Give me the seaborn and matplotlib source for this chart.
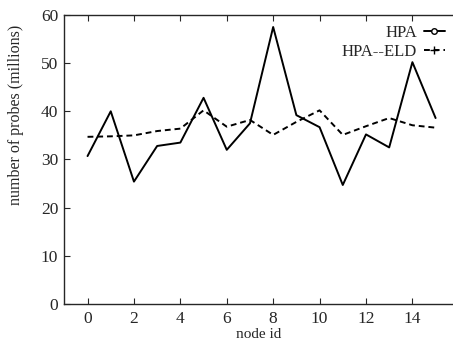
import numpy as np
import pandas as pd
import matplotlib
matplotlib.use('Agg')
import matplotlib.pyplot as plt
from matplotlib.lines import Line2D
import seaborn as sns

node_id = list(range(16))
hpa = [30.7, 40.0, 25.4, 32.8, 33.5, 42.8, 32.0, 37.5, 57.5, 39.2, 36.7, 24.7, 35.2, 32.5, 50.2, 38.6]
hpa_eld = [34.7, 34.8, 35.0, 35.9, 36.4, 40.2, 36.8, 38.2, 35.1, 37.8, 40.2, 35.1, 36.9, 38.6, 37.1, 36.6]
series_names = ['HPA', 'HPA--ELD']

df = pd.DataFrame({
    'node': node_id * 2,
    'probes': hpa + hpa_eld,
    'method': [series_names[0]] * 16 + [series_names[1]] * 16,
})

sns.set_style('ticks')
plt.rcParams['font.family'] = ['Liberation Serif', 'DejaVu Serif']

fig = plt.figure(figsize=(4.53, 3.40), dpi=100)
ax = fig.add_axes([0.141, 0.106, 0.859, 0.850])

sns.lineplot(
    data=df,
    x='node',
    y='probes',
    hue='method',
    style='method',
    palette={series_names[0]: 'black', series_names[1]: 'black'},
    dashes={series_names[0]: '', series_names[1]: (3, 2)},
    linewidth=1.4,
    legend=False,
    ax=ax
)

ax.set_xlim(-1.02, 15.75)
ax.set_ylim(0, 60)
ax.set_xticks(range(0, 16, 2))
ax.set_yticks(range(0, 61, 10))
ax.tick_params(direction='in', top=True, right=False, labelsize=12.5, length=4, width=0.8)
ax.tick_params(axis='x', pad=5)
ax.tick_params(axis='y', pad=4)
ax.spines['right'].set_visible(False)
for s in ['left', 'top', 'bottom']:
    ax.spines[s].set_linewidth(1.0)
ax.set_xlabel('node id', fontsize=11)
ax.xaxis.set_label_coords(0.5, -0.083)
ax.set_ylabel('number of probes (millions)', fontsize=11.5)
ax.yaxis.set_label_coords(-0.103, 0.654)

handles = [
    Line2D([], [], color='black', lw=1.4, marker='o', markersize=4, markerfacecolor='white'),
    Line2D([], [], color='black', lw=1.4, ls=(0, (3, 2)), marker='+', markersize=6),
]
ax.legend(handles, series_names, loc='upper right', bbox_to_anchor=(1.01, 1.005),
          frameon=False, markerfirst=False, fontsize=12, handlelength=1.3,
          handletextpad=0.4, labelspacing=0.15, borderpad=0.2)

fig.savefig('out.png', dpi=100)
